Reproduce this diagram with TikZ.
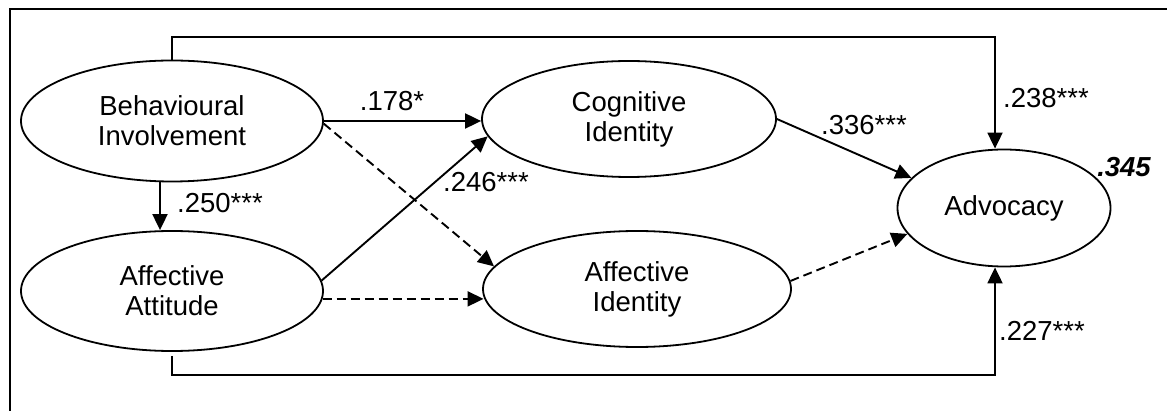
\documentclass[tikz,border=0pt]{standalone}
\usepackage{fontspec}
\setmainfont{Liberation Sans}
\usetikzlibrary{arrows.meta,shapes.geometric}
\begin{document}
\begin{tikzpicture}[x=1pt,y=-1pt,
  every node/.style={font=\fontsize{27.5}{30}\selectfont},
  latent/.style={ellipse,draw,line width=1.8pt,inner sep=0pt,align=center},
  path/.style={line width=1.9pt,-{Triangle[length=16pt,width=15pt]}},
  nspath/.style={path,dash pattern=on 9pt off 5pt},
  coef/.style={inner sep=0pt,anchor=center}]
\useasboundingbox (0,0) rectangle (1167,411);
\draw[line width=1.9pt] (10,411) -- (10,9) -- (1167,9);

\node[latent,minimum width=302pt,minimum height=121pt] (BI) at (172,121) {Behavioural\\Involvement};
\node[latent,minimum width=302pt,minimum height=120pt] (AA) at (172,291) {Affective\\Attitude};
\node[latent,minimum width=294pt,minimum height=116pt] (CI) at (629,119) {Cognitive\\Identity};
\node[latent,minimum width=308pt,minimum height=116pt] (AI) at (637,289) {Affective\\Identity};
\node[latent,minimum width=213pt,minimum height=117pt] (ADV) at (1004,208) {Advocacy};

\coordinate (tc) at (995,37);
\coordinate (bc) at (995,375);

\draw[path] (BI.north) |- (tc) -- (tc |- ADV.north);
\draw[path,shorten <=4pt] (AA.south) |- (bc) -- (bc |- ADV.south);
\draw[path] ([xshift=-12pt]BI.south) -- ([xshift=-12pt]BI.south |- AA.north);
\draw[path] (BI.east) -- (BI.east -| CI.west);
\draw[nspath] (BI.-1) -- (AI.171);
\draw[path] (AA.4) -- (CI.187);
\draw[nspath] (AA.-3) -- (AA.-3 -| AI.183);
\draw[path] (CI.east) -- (ADV.162);
\draw[nspath] (AI.3) -- (ADV.195);

\node[coef] (c1) at (392,101) {.178*};
\node[coef] (c2) at (220,203) {.250***};
\node[coef] (c3) at (486,182) {.246***};
\node[coef] (c4) at (864,125) {.336***};
\node[coef] (c5) at (1046,98) {.238***};
\node[coef] (c6) at (1042,331) {.227***};
\node[coef,font=\fontsize{27.5}{30}\selectfont\bfseries\itshape] (r2) at (1124,167) {.345};
\end{tikzpicture}
\end{document}
